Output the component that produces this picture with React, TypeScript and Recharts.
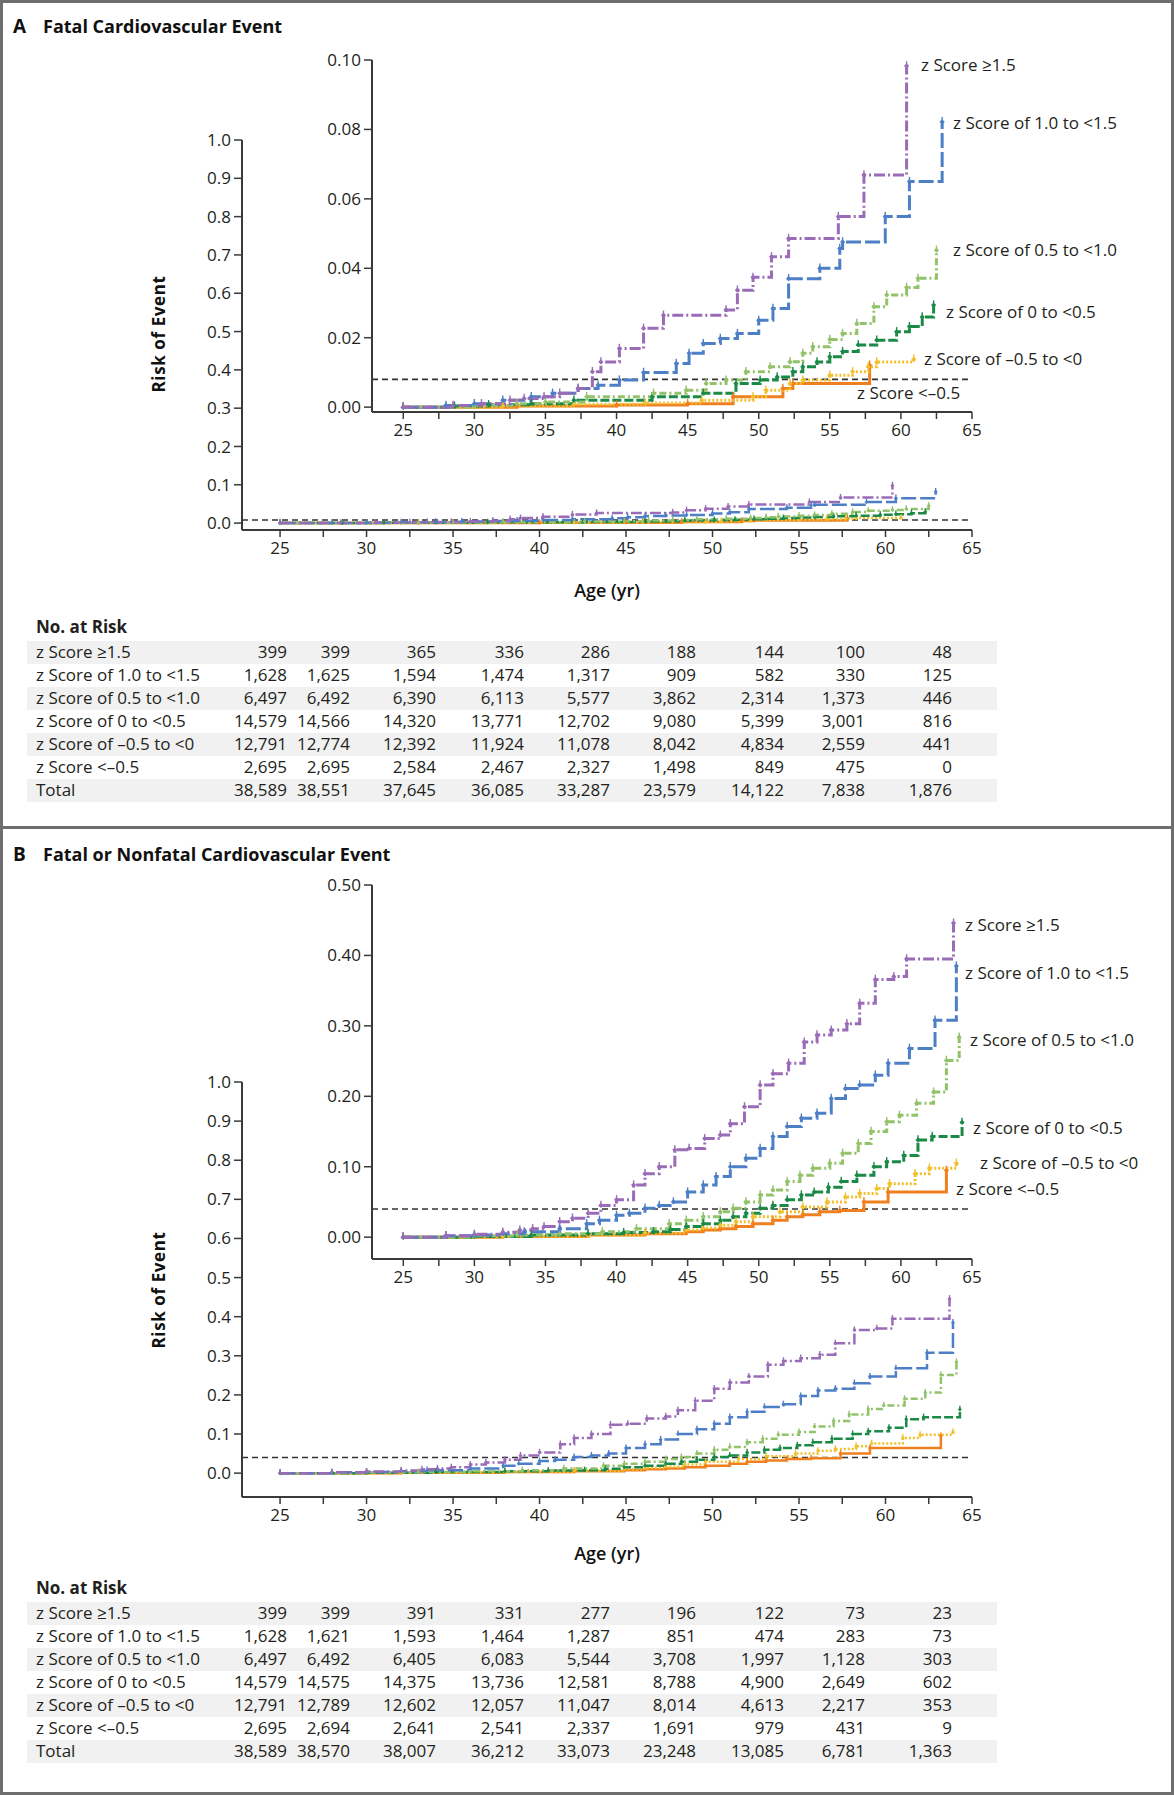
import { Line, LineChart, ReferenceLine, XAxis, YAxis } from "recharts"

type Pt = [number, number]

// axes
const ageTicks = [25, 27.5, 30, 32.5, 35, 37.5, 40, 42.5, 45, 47.5, 50, 52.5, 55, 57.5, 60, 62.5, 65]
const mainRiskTicks = [0, 0.1, 0.2, 0.3, 0.4, 0.5, 0.6, 0.7, 0.8, 0.9, 1.0]
const fatalInsetTicks = [0, 0.02, 0.04, 0.06, 0.08, 0.1]
const anyInsetTicks = [0, 0.1, 0.2, 0.3, 0.4, 0.5]

const groupNames = [
  "z Score ≥1.5",
  "z Score of 1.0 to <1.5",
  "z Score of 0.5 to <1.0",
  "z Score of 0 to <0.5",
  "z Score of –0.5 to <0",
  "z Score <–0.5",
]
const riskRowNames = [...groupNames, "Total"]

// panel A: fatal cardiovascular event, [age, cumulative risk]
const fatalZ15: Pt[] = [[25, 0], [28.5, 0.0005], [30.5, 0.001], [32.5, 0.002], [33.5, 0.0025], [34.9, 0.003], [36, 0.004], [37.3, 0.0054], [38.3, 0.0102], [38.9, 0.013], [40.2, 0.0169], [41.9, 0.0227], [43.3, 0.0265], [47.7, 0.028], [48.5, 0.0337], [49.6, 0.0374], [50.9, 0.0433], [52.1, 0.0486], [55.6, 0.0549], [57.4, 0.0669], [60.4, 0.0983]]
const fatalZ10: Pt[] = [[25, 0], [28, 0.0005], [30, 0.001], [32, 0.002], [34, 0.003], [35.5, 0.004], [37.3, 0.0054], [38.7, 0.0063], [40.2, 0.0078], [41.9, 0.01], [44.2, 0.0126], [45.1, 0.0155], [46.1, 0.0183], [47.3, 0.0198], [48.5, 0.0212], [50, 0.025], [51, 0.0284], [52.1, 0.037], [54.3, 0.04], [55.7, 0.0457], [55.9, 0.0476], [58.9, 0.0549], [60.6, 0.065], [62.9, 0.0822]]
const fatalZ05: Pt[] = [[25, 0], [30, 0.0005], [33, 0.001], [35, 0.0015], [37.9, 0.003], [42.6, 0.004], [44.9, 0.0049], [46.3, 0.0068], [47.7, 0.0078], [49.1, 0.0102], [50.8, 0.0116], [52.2, 0.0131], [53.1, 0.0155], [53.8, 0.0174], [55, 0.0195], [55.9, 0.0212], [56.9, 0.0241], [58.1, 0.0289], [59, 0.0323], [60.4, 0.0345], [61.2, 0.0371], [62.5, 0.0452]]
const fatalZ00: Pt[] = [[25, 0], [28.6, 0.0003], [31, 0.0007], [34, 0.001], [37, 0.002], [42.5, 0.003], [46.1, 0.004], [48.4, 0.0068], [50.1, 0.0078], [51.3, 0.0087], [52.4, 0.0102], [53.1, 0.0116], [54.1, 0.013], [55, 0.0145], [55.9, 0.016], [57, 0.0179], [58.3, 0.0193], [59.7, 0.0217], [60.6, 0.0232], [61.5, 0.026], [62.3, 0.0294]]
const fatalZm05: Pt[] = [[25, 0], [32, 0.0003], [37, 0.0008], [42, 0.0012], [46, 0.002], [49.6, 0.003], [50.5, 0.0049], [52.2, 0.0068], [53.1, 0.0078], [55, 0.0092], [56.6, 0.0102], [57.7, 0.0116], [58.3, 0.013], [60.9, 0.0138]]
const fatalZlow: Pt[] = [[25, 0], [33, 0.0003], [40, 0.0006], [45, 0.001], [48.2, 0.003], [51.7, 0.0054], [52.4, 0.0068], [57.8, 0.0121]]

// panel B: fatal or nonfatal cardiovascular event
const anyZ15: Pt[] = [[25, 0], [28, 0.002], [30, 0.004], [32, 0.007], [33.2, 0.01], [34.1, 0.012], [34.9, 0.015], [36, 0.022], [36.9, 0.027], [38, 0.034], [38.9, 0.045], [40, 0.053], [41.2, 0.074], [42, 0.09], [43, 0.1], [44.1, 0.124], [45.1, 0.126], [46.2, 0.14], [47.3, 0.145], [48, 0.161], [49, 0.185], [50.1, 0.216], [51, 0.232], [52.1, 0.247], [53.2, 0.277], [54.1, 0.287], [55.1, 0.294], [56.2, 0.303], [57.1, 0.332], [58.2, 0.366], [59.5, 0.37], [60.4, 0.395], [63.7, 0.446]]
const anyZ10: Pt[] = [[25, 0], [28, 0.002], [30, 0.003], [32, 0.005], [33.5, 0.0076], [36, 0.012], [37.9, 0.019], [38.8, 0.024], [40, 0.031], [40.9, 0.034], [42, 0.041], [43, 0.045], [44, 0.05], [45, 0.064], [46.1, 0.074], [47, 0.086], [48, 0.1], [49.1, 0.112], [50.1, 0.126], [51, 0.143], [52, 0.157], [53, 0.169], [54.1, 0.176], [55.1, 0.197], [56.1, 0.211], [57.1, 0.216], [58.2, 0.23], [59.1, 0.247], [60.6, 0.268], [62.4, 0.308], [63.9, 0.385]]
const anyZ05: Pt[] = [[25, 0], [30, 0.002], [33, 0.003], [36, 0.005], [39, 0.0076], [41.4, 0.012], [43.7, 0.019], [44.9, 0.024], [46.1, 0.029], [47.3, 0.036], [48.2, 0.041], [49.1, 0.05], [50.1, 0.06], [51, 0.067], [52, 0.079], [52.9, 0.088], [53.8, 0.098], [55, 0.105], [55.9, 0.119], [57, 0.133], [57.9, 0.15], [59, 0.164], [59.9, 0.173], [61.1, 0.19], [62.3, 0.206], [63.2, 0.251], [64.1, 0.284]]
const anyZ00: Pt[] = [[25, 0], [30, 0.001], [34, 0.003], [38, 0.005], [40.5, 0.0065], [42.6, 0.0076], [43.8, 0.011], [44.9, 0.015], [46.1, 0.019], [47.3, 0.024], [48.2, 0.029], [49.1, 0.034], [50.1, 0.041], [51, 0.045], [52, 0.053], [53, 0.06], [53.9, 0.064], [54.9, 0.071], [55.8, 0.079], [56.9, 0.088], [58.1, 0.1], [59, 0.107], [60.2, 0.116], [61.2, 0.138], [62.2, 0.143], [64.3, 0.163]]
const anyZm05: Pt[] = [[25, 0], [32, 0.001], [38, 0.003], [42, 0.006], [44.9, 0.01], [46.1, 0.013], [47.3, 0.017], [48.4, 0.022], [49.6, 0.029], [51.5, 0.036], [53.1, 0.043], [54.8, 0.05], [56.1, 0.057], [57.1, 0.062], [58.3, 0.069], [59.2, 0.076], [61, 0.09], [62, 0.098], [63.9, 0.105]]
const anyZlow: Pt[] = [[25, 0], [32, 0.001], [38, 0.003], [42, 0.005], [44.9, 0.0076], [46.1, 0.01], [47.3, 0.012], [48.4, 0.015], [49.6, 0.019], [51, 0.024], [52, 0.029], [53.1, 0.032], [54.3, 0.036], [55.7, 0.038], [57.4, 0.05], [59.1, 0.064], [63.2, 0.095]]

// no. at risk
const fatalAtRisk = [
  [399, 399, 365, 336, 286, 188, 144, 100, 48],
  [1628, 1625, 1594, 1474, 1317, 909, 582, 330, 125],
  [6497, 6492, 6390, 6113, 5577, 3862, 2314, 1373, 446],
  [14579, 14566, 14320, 13771, 12702, 9080, 5399, 3001, 816],
  [12791, 12774, 12392, 11924, 11078, 8042, 4834, 2559, 441],
  [2695, 2695, 2584, 2467, 2327, 1498, 849, 475, 0],
  [38589, 38551, 37645, 36085, 33287, 23579, 14122, 7838, 1876],
]
const anyAtRisk = [
  [399, 399, 391, 331, 277, 196, 122, 73, 23],
  [1628, 1621, 1593, 1464, 1287, 851, 474, 283, 73],
  [6497, 6492, 6405, 6083, 5544, 3708, 1997, 1128, 303],
  [14579, 14575, 14375, 13736, 12581, 8788, 4900, 2649, 602],
  [12791, 12789, 12602, 12057, 11047, 8014, 4613, 2217, 353],
  [2695, 2694, 2641, 2541, 2337, 1691, 979, 431, 9],
  [38589, 38570, 38007, 36212, 33073, 23248, 13085, 6781, 1363],
]

const fatalSeries = [fatalZ15, fatalZ10, fatalZ05, fatalZ00, fatalZm05, fatalZlow]
const anySeries = [anyZ15, anyZ10, anyZ05, anyZ00, anyZm05, anyZlow]

const colors = ["#9a6cb8", "#4d7fc6", "#92c269", "#1b8a47", "#f2c02c", "#f0801f"]
const dashes = ["11 3 2 3", "15 4", "7 3 2 3", "9 3", "2 2", undefined]

const axisColor = "#3a3a3a"
const textColor = "#231f20"
const font = "'Open Sans', 'Noto Sans', sans-serif"

const fmt = (n: number) => String(n).replace(/\B(?=(\d{3})+(?!\d))/g, ",")

const censorDot = (color: string, s: number) => (p: any) => {
  if (p.cx == null || p.cy == null) return <g key={`c-${p.index}`} />
  return (
    <g key={`c-${p.index}`}>
      <path d={`M${p.cx},${p.cy - s * 1.8}L${p.cx},${p.cy + s * 0.6}`} stroke={color} strokeWidth={1.4} />
      <path d={`M${p.cx - s},${p.cy}L${p.cx},${p.cy - s}L${p.cx + s},${p.cy}L${p.cx},${p.cy + s}Z`} fill={color} />
    </g>
  )
}

type RiskChartProps = {
  plotTop: number
  plotBottom: number
  plotLeft: number
  yDomain: [number, number]
  yTicks: number[]
  yDigits: number
  refY: number
  series: Pt[][]
  lineWidth: number
  dotSize: number
}

const PAD = 20

const RiskChart = ({ plotTop, plotBottom, plotLeft, yDomain, yTicks, yDigits, refY, series, lineWidth, dotSize }: RiskChartProps) => {
  const height = plotBottom - plotTop + PAD + 40
  const order = [5, 4, 3, 2, 1, 0]
  return (
    <div style={{ position: "absolute", left: 0, top: plotTop - PAD }}>
      <LineChart width={1174} height={height} margin={{ top: PAD, right: 202, bottom: 0, left: 0 }}>
        <XAxis
          type="number"
          dataKey="age"
          domain={[22.8, 65]}
          ticks={ageTicks}
          interval={0}
          allowDataOverflow
          tickFormatter={(v: number) => (v % 5 === 0 ? String(v) : "")}
          height={40}
          tickSize={7}
          tickMargin={5}
          axisLine={{ stroke: axisColor, strokeWidth: 2 }}
          tickLine={{ stroke: axisColor, strokeWidth: 1.5 }}
          tick={{ fill: textColor, fontSize: 17 }}
        />
        <YAxis
          type="number"
          domain={yDomain}
          ticks={yTicks}
          interval={0}
          allowDataOverflow
          width={plotLeft}
          tickFormatter={(v: number) => v.toFixed(yDigits)}
          tickSize={8}
          tickMargin={3}
          axisLine={{ stroke: axisColor, strokeWidth: 2 }}
          tickLine={{ stroke: axisColor, strokeWidth: 1.5 }}
          tick={{ fill: textColor, fontSize: 17 }}
        />
        <ReferenceLine y={refY} stroke="#333" strokeWidth={1.6} strokeDasharray="6 4" />
        {order.map((i) => (
          <Line
            key={i}
            data={series[i].map(([age, risk]) => ({ age, risk }))}
            dataKey="risk"
            type="stepAfter"
            stroke={colors[i]}
            strokeWidth={lineWidth}
            strokeDasharray={dashes[i]}
            dot={censorDot(colors[i], dotSize)}
            activeDot={false}
            isAnimationActive={false}
          />
        ))}
      </LineChart>
    </div>
  )
}

type LabelPos = { left: number; cy: number }

const SeriesLabels = ({ positions }: { positions: LabelPos[] }) => (
  <>
    {positions.map((p, i) => (
      <div key={i} style={{ position: "absolute", left: p.left, top: p.cy - 12, height: 24, lineHeight: "24px", fontSize: 17, color: textColor, whiteSpace: "nowrap" }}>
        {groupNames[i]}
      </div>
    ))}
  </>
)

const colRight = [287, 350, 436, 524, 610, 696, 784, 865, 952]

const RiskTable = ({ top, rows }: { top: number; rows: number[][] }) => (
  <>
    <div style={{ position: "absolute", left: 36, top: top - 25 - 12, lineHeight: "24px", fontSize: 17, fontWeight: 700, color: textColor }}>
      No. at Risk
    </div>
    {rows.map((row, r) => (
      <div key={r}>
        {r % 2 === 0 && <div style={{ position: "absolute", left: 27, width: 970, top: top + r * 23 - 11.5, height: 23, background: "#f1f1f1" }} />}
        <div style={{ position: "absolute", left: 36, top: top + r * 23 - 12, lineHeight: "24px", fontSize: 17, color: textColor, whiteSpace: "nowrap" }}>
          {riskRowNames[r]}
        </div>
        {row.map((v, c) => (
          <div key={c} style={{ position: "absolute", left: colRight[c] - 100, width: 100, textAlign: "right", top: top + r * 23 - 12, lineHeight: "24px", fontSize: 17, color: textColor }}>
            {fmt(v)}
          </div>
        ))}
      </div>
    ))}
  </>
)

const PanelTitle = ({ top, letter, text }: { top: number; letter: string; text: string }) => (
  <>
    <div style={{ position: "absolute", left: 13, top, fontSize: 19, lineHeight: "26px", fontWeight: 700, color: "#111" }}>{letter}</div>
    <div style={{ position: "absolute", left: 43, top, fontSize: 18, lineHeight: "26px", fontWeight: 700, color: "#111", whiteSpace: "nowrap" }}>{text}</div>
  </>
)

const AxisTitles = ({ riskCy, ageCy }: { riskCy: number; ageCy: number }) => (
  <>
    <div style={{ position: "absolute", left: 159 - 80, top: riskCy - 12, width: 160, textAlign: "center", lineHeight: "24px", fontSize: 17, fontWeight: 700, letterSpacing: 0.6, color: "#111", transform: "rotate(-90deg)" }}>
      Risk of Event
    </div>
    <div style={{ position: "absolute", left: 607 - 60, top: ageCy - 12, width: 120, textAlign: "center", lineHeight: "24px", fontSize: 18, fontWeight: 600, color: "#111" }}>
      Age (yr)
    </div>
  </>
)

const labelsA: LabelPos[] = [
  { left: 921, cy: 65 },
  { left: 953, cy: 123 },
  { left: 953, cy: 250 },
  { left: 946, cy: 312 },
  { left: 924, cy: 359 },
  { left: 857, cy: 393 },
]
const labelsB: LabelPos[] = [
  { left: 965, cy: 925 },
  { left: 965, cy: 973 },
  { left: 970, cy: 1040 },
  { left: 973, cy: 1128 },
  { left: 980, cy: 1163 },
  { left: 956, cy: 1189 },
]

const App = () => {
  return (
    <div style={{ position: "relative", width: 1174, height: 1795, background: "#fff", fontFamily: font, overflow: "hidden" }}>
      <style>{"body{margin:0;}"}</style>
      <div style={{ position: "absolute", inset: 0, border: "3px solid #6e6e6e", boxSizing: "border-box" }} />
      <div style={{ position: "absolute", left: 0, width: 1174, top: 826, height: 3, background: "#6e6e6e" }} />

      {/* Panel A */}
      <PanelTitle top={13} letter="A" text="Fatal Cardiovascular Event" />
      <RiskChart plotTop={140} plotBottom={530} plotLeft={242} yDomain={[-0.018, 1]} yTicks={mainRiskTicks} yDigits={1} refY={0.008} series={fatalSeries} lineWidth={2.5} dotSize={2} />
      <RiskChart plotTop={60} plotBottom={412} plotLeft={372} yDomain={[-0.0014, 0.1]} yTicks={fatalInsetTicks} yDigits={2} refY={0.008} series={fatalSeries} lineWidth={3} dotSize={2.6} />
      <SeriesLabels positions={labelsA} />
      <AxisTitles riskCy={334} ageCy={590} />
      <RiskTable top={652} rows={fatalAtRisk} />

      {/* Panel B */}
      <PanelTitle top={841} letter="B" text="Fatal or Nonfatal Cardiovascular Event" />
      <RiskChart plotTop={1082} plotBottom={1497} plotLeft={242} yDomain={[-0.061, 1]} yTicks={mainRiskTicks} yDigits={1} refY={0.04} series={anySeries} lineWidth={2.5} dotSize={2} />
      <RiskChart plotTop={885} plotBottom={1259} plotLeft={372} yDomain={[-0.031, 0.5]} yTicks={anyInsetTicks} yDigits={2} refY={0.04} series={anySeries} lineWidth={3} dotSize={2.6} />
      <SeriesLabels positions={labelsB} />
      <AxisTitles riskCy={1290} ageCy={1553} />
      <RiskTable top={1613} rows={anyAtRisk} />
    </div>
  )
}

export default App
